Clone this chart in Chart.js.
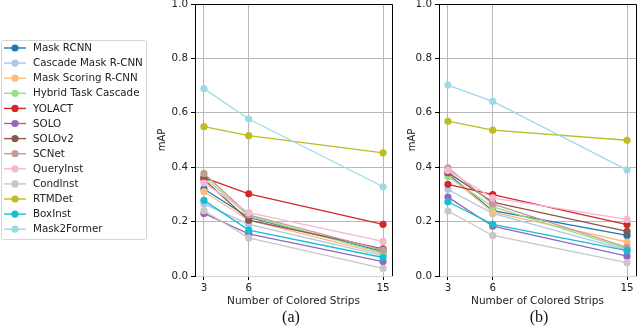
<!DOCTYPE html>
<html>
<head>
<meta charset="utf-8">
<script src="https://cdn.jsdelivr.net/npm/chart.js@4.4.1/dist/chart.umd.min.js"></script>
<style>
  body { margin: 0; background: #fff; }
  #wrap { position: relative; width: 640px; height: 331px; overflow: hidden; }
  canvas { position: absolute; top: 0; }
  #chartA { left: 0; }
  #chartB { left: 396px; }
  .cap { position: absolute; top: 308px; font-family: "Liberation Serif", serif; font-size: 16px; color: #111; transform: translateX(-50%); }
</style>
</head>
<body>
<div id="wrap">
  <canvas id="chartA" width="396" height="331"></canvas>
  <canvas id="chartB" width="244" height="331"></canvas>
  <div class="cap" style="left:291px">(a)</div>
  <div class="cap" style="left:539px">(b)</div>
</div>
<script>
'use strict'

let strips = [3, 6, 15];
let yTicks = [0, 0.2, 0.4, 0.6, 0.8, 1.0];

let modelNames = ['Mask RCNN', 'Cascade Mask R-CNN', 'Mask Scoring R-CNN', 'Hybrid Task Cascade',
  'YOLACT', 'SOLO', 'SOLOv2', 'SCNet', 'QueryInst', 'CondInst', 'RTMDet', 'BoxInst', 'Mask2Former'];

let modelColors = ['#1f77b4', '#aec7e8', '#ffbb78', '#98df8a', '#d62728', '#9467bd', '#8c564b',
  '#c49c94', '#f7b6d2', '#c7c7c7', '#bcbd22', '#17becf', '#9edae5'];

// mAP at 3 / 6 / 15 strips, panel (a)
let mapA = [
  [0.320, 0.215, 0.090],
  [0.265, 0.190, 0.075],
  [0.310, 0.205, 0.080],
  [0.365, 0.220, 0.085],
  [0.362, 0.302, 0.190],
  [0.230, 0.155, 0.053],
  [0.355, 0.205, 0.100],
  [0.377, 0.225, 0.095],
  [0.342, 0.233, 0.127],
  [0.240, 0.140, 0.028],
  [0.549, 0.516, 0.453],
  [0.278, 0.169, 0.068],
  [0.689, 0.577, 0.328]
];

// panel (b)
let mapB = [
  [0.375, 0.240, 0.149],
  [0.318, 0.230, 0.095],
  [0.370, 0.235, 0.125],
  [0.365, 0.255, 0.100],
  [0.337, 0.299, 0.189],
  [0.290, 0.183, 0.073],
  [0.380, 0.272, 0.164],
  [0.398, 0.265, 0.105],
  [0.388, 0.287, 0.208],
  [0.239, 0.149, 0.049],
  [0.569, 0.536, 0.499],
  [0.273, 0.190, 0.093],
  [0.702, 0.642, 0.390]
];

let fontFam = '"DejaVu Sans", sans-serif';
let textColor = '#222';

// top + right spines like matplotlib
let frameLines = {
  id: 'frameLines',
  afterDraw(chart) {
    let a = chart.chartArea;
    let ctx = chart.ctx;
    ctx.save();
    ctx.strokeStyle = '#000';
    ctx.lineWidth = 1;
    ctx.beginPath();
    ctx.moveTo(Math.round(a.left) + 0.5, Math.round(a.top) + 0.5);
    ctx.lineTo(Math.round(a.right) + 0.5, Math.round(a.top) + 0.5);
    ctx.lineTo(Math.round(a.right) + 0.5, Math.round(a.bottom));
    ctx.stroke();
    ctx.restore();
  }
};

let legendBox = {
  id: 'legendBox',
  afterDraw(chart) {
    let ctx = chart.ctx;
    ctx.save();
    ctx.strokeStyle = '#d5d5d5';
    ctx.lineWidth = 1;
    ctx.beginPath();
    ctx.roundRect(1.5, 40.5, 145, 199, 2);
    ctx.stroke();
    ctx.font = '10.3px ' + fontFam;
    ctx.textBaseline = 'middle';
    for (let i = 0; i < modelNames.length; i++) {
      let y = 48 + i * 15.1;
      ctx.strokeStyle = modelColors[i];
      ctx.lineWidth = 1.4;
      ctx.beginPath();
      ctx.moveTo(4, y);
      ctx.lineTo(26, y);
      ctx.stroke();
      ctx.fillStyle = modelColors[i];
      ctx.beginPath();
      ctx.arc(15, y, 3.6, 0, Math.PI * 2);
      ctx.fill();
      ctx.fillStyle = textColor;
      ctx.fillText(modelNames[i], 33, y + 0.5);
    }
    ctx.restore();
  }
};

function makeDatasets(values) {
  return modelNames.map((name, i) => ({
    label: name,
    data: strips.map((s, j) => ({ x: s, y: values[i][j] })),
    borderColor: modelColors[i],
    backgroundColor: modelColors[i],
    borderWidth: 1.3,
    pointRadius: 3.6,
    pointBorderWidth: 0,
    pointBackgroundColor: modelColors[i],
    order: -i
  }));
}

function makeChart(canvasId, values, yAxisW, yTitlePad, pad, extraPlugins) {
  let ctx = document.getElementById(canvasId).getContext('2d');
  return new Chart(ctx, {
    type: 'line',
    data: { datasets: makeDatasets(values) },
    options: {
      responsive: false,
      animation: false,
      layout: { padding: pad },
      plugins: { legend: { display: false }, tooltip: { enabled: false } },
      scales: {
        x: {
          type: 'linear',
          min: 2.4,
          max: 15.6,
          afterBuildTicks: (s) => { s.ticks = strips.map(v => ({ value: v })); },
          afterFit: (s) => { s.height = 55; s.paddingLeft = 0; s.paddingRight = 0; },
          ticks: { font: { family: fontFam, size: 10.3 }, color: textColor, padding: 2, maxRotation: 0 },
          grid: { color: '#b8b8b8', lineWidth: 1, tickColor: '#000', tickLength: 4 },
          border: { color: '#d0d0d0', width: 1 },
          title: { display: true, text: 'Number of Colored Strips', font: { family: fontFam, size: 10.5 }, color: textColor, padding: { top: 0, bottom: 23 } }
        },
        y: {
          min: 0,
          max: 1,
          afterBuildTicks: (s) => { s.ticks = yTicks.map(v => ({ value: v })); },
          afterFit: (s) => { s.width = yAxisW; s.paddingTop = 0; s.paddingBottom = 0; },
          ticks: { font: { family: fontFam, size: 10.3 }, color: textColor, padding: 3, callback: (v) => v.toFixed(1) },
          grid: { color: '#b8b8b8', lineWidth: 1, tickColor: '#000', tickLength: 4 },
          border: { color: '#000', width: 1 },
          title: { display: true, text: 'mAP', font: { family: fontFam, size: 10 }, color: textColor, padding: { top: yTitlePad, bottom: 0 } }
        }
      }
    },
    plugins: [frameLines].concat(extraPlugins)
  });
}

makeChart('chartA', mapA, 45, 6, { left: 150, top: 3, right: 2, bottom: 0 }, [legendBox]);
makeChart('chartB', mapB, 43, 10, { left: 0, top: 3, right: 4, bottom: 0 }, []);
</script>
</body>
</html>
